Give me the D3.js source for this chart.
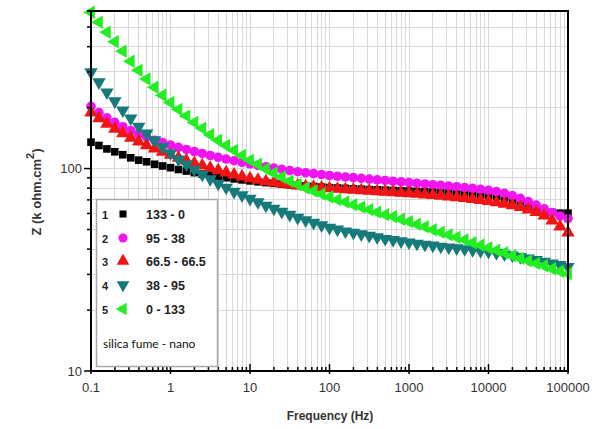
<!DOCTYPE html>
<html>
<head>
<meta charset="utf-8">
<script src="https://cdn.jsdelivr.net/npm/d3@7"></script>
<style>
  html, body { margin: 0; padding: 0; background: #fff; }
  svg { display: block; }
</style>
</head>
<body>
<svg id="chart" width="601" height="429"></svg>
<script>
// Impedance modulus vs frequency, five silica fume / nano-silica blends
const frequency = [
  0.1, 0.1259, 0.1585, 0.1995, 0.2512, 0.3162, 0.3981, 0.5012, 0.631, 0.7943,
  1, 1.259, 1.585, 1.995, 2.512, 3.162, 3.981, 5.012, 6.31, 7.943,
  10, 12.59, 15.85, 19.95, 25.12, 31.62, 39.81, 50.12, 63.1, 79.43,
  100, 125.9, 158.5, 199.5, 251.2, 316.2, 398.1, 501.2, 631, 794.3,
  1000, 1259, 1585, 1995, 2512, 3162, 3981, 5012, 6310, 7943,
  10000, 12590, 15850, 19950, 25120, 31620, 39810, 50120, 63100, 79430, 100000
];

const z133_0 = [
  135, 130, 125, 121, 117, 113, 110, 108, 105, 103,
  101, 98.9, 97.2, 95.5, 93.9, 92.5, 91.3, 90.1, 88.9, 87.9,
  86.9, 86.0, 85.2, 84.5, 83.8, 83.1, 82.6, 82.0, 81.5, 81.0,
  80.5, 80.2, 79.8, 79.4, 79.1, 78.7, 78.5, 78.2, 77.9, 77.6,
  77.4, 77.1, 76.8, 76.6, 76.3, 76.1, 75.7, 75.4, 75.0, 74.4,
  73.8, 72.9, 71.6, 69.8, 67.9, 65.7, 63.7, 62.0, 60.7, 60.2, 60.2
];

const z95_38 = [
  203, 189, 178, 169, 161, 154, 148, 143, 138, 134.5,
  130.7, 127.3, 124.2, 121.4, 118.7, 116.0, 113.6, 111.4, 109.3, 107.3,
  105.5, 103.7, 102.1, 100.6, 99.1, 97.7, 96.5, 95.4, 94.4, 93.4,
  92.4, 91.6, 90.9, 90.2, 89.4, 88.7, 88.0, 87.3, 86.6, 85.9,
  85.2, 84.6, 83.9, 83.2, 82.6, 81.9, 81.3, 80.5, 79.8, 79.0,
  78.1, 76.9, 75.4, 73.5, 71.2, 68.7, 66.0, 63.3, 60.6, 58.2, 56.6
];

const z66_66 = [
  189, 177, 166, 157, 149, 141.9, 135.8, 130.3, 125.3, 120.8,
  116.8, 113.0, 109.5, 106.3, 103.4, 100.6, 98.0, 95.5, 93.3, 91.3,
  89.4, 87.8, 86.4, 85.2, 84.2, 83.2, 82.4, 81.6, 81.0, 80.4,
  79.8, 79.3, 78.9, 78.5, 78.0, 77.6, 77.1, 76.7, 76.3, 75.8,
  75.4, 74.9, 74.4, 73.9, 73.3, 72.7, 72.0, 71.4, 70.6, 69.8,
  69.0, 68.0, 66.9, 65.7, 64.4, 62.7, 60.9, 58.5, 55.3, 51.6, 48.2
];

const z38_95 = [
  299, 267, 238, 215, 194, 177, 161, 149, 138, 128,
  119, 111, 105, 98.9, 93.4, 88.7, 84.3, 80.5, 76.9, 73.9,
  71.0, 68.3, 65.6, 63.4, 61.2, 59.2, 57.2, 55.6, 54.0, 52.5,
  51.0, 50.0, 49.0, 48.2, 47.4, 46.6, 45.8, 45.0, 44.4, 43.8,
  43.2, 42.6, 42.1, 41.7, 41.2, 40.8, 40.4, 40.0, 39.6, 39.2,
  38.8, 38.3, 37.7, 37.2, 36.6, 36.0, 35.4, 34.7, 34.0, 33.4, 32.7
];

const z0_133 = [
  592, 528, 471, 423, 380, 339, 306, 277, 252, 230,
  212, 196, 182, 169, 158, 147, 138, 130, 123, 116,
  110, 105, 99.4, 95.0, 90.8, 86.7, 83.3, 80.1, 77.4, 74.8,
  72.3, 70.2, 68.3, 66.3, 64.5, 62.7, 60.9, 59.2, 57.9, 56.2,
  54.7, 53.1, 51.6, 49.9, 48.5, 47.1, 45.8, 44.5, 43.0, 41.8,
  40.6, 39.5, 38.4, 37.1, 36.0, 35.0, 34.0, 33.1, 32.0, 31.1, 30.2
];

const seriesNames = ["133 - 0", "95 - 38", "66.5 - 66.5", "38 - 95", "0 - 133"];
const seriesValues = [z133_0, z95_38, z66_66, z38_95, z0_133];
const seriesColors = ["#000000", "#f014f0", "#f01414", "#177a7a", "#22ee22"];
const seriesShapes = ["square", "circle", "up", "down", "left"];

const xTickLabels = ["0.1", "1", "10", "100", "1000", "10000", "100000"];
const yTickLabels = ["10", "100"];
const xTickValues = xTickLabels.map(Number);
const yTickValues = yTickLabels.map(Number);

const svg = d3.select("#chart");
const plotLeft = 91, plotRight = 568, plotTop = 11, plotBottom = 371;

const x = d3.scaleLog().domain([0.1, 100000]).range([plotLeft, plotRight]);
const y = d3.scaleLog().domain([10, 600]).range([plotBottom, plotTop]);

// minor values for grid and ticks
const xMinor = [];
for (let e = -1; e < 5; e++) for (let m = 1; m <= 9; m++) xMinor.push(+(m * Math.pow(10, e)).toPrecision(3));
xMinor.push(100000);
const yMinor = [];
for (let e = 1; e < 3; e++) for (let m = 1; m <= 9; m++) { const v = m * Math.pow(10, e); if (v <= 600) yMinor.push(v); }

// grid
const grid = svg.append("g").attr("stroke", "#d8d8d8").attr("stroke-width", 1).attr("shape-rendering", "crispEdges");
grid.append("g").selectAll("line").data(xMinor).join("line")
  .attr("x1", d => x(d)).attr("x2", d => x(d)).attr("y1", plotTop).attr("y2", plotBottom);
grid.append("g").selectAll("line").data(yMinor).join("line")
  .attr("y1", d => y(d)).attr("y2", d => y(d)).attr("x1", plotLeft).attr("x2", plotRight);

// markers
function shapePath(shape, size) {
  const s = shape === "square" ? d3.symbolSquare : shape === "circle" ? d3.symbolCircle : d3.symbolTriangle;
  return d3.symbol().type(s).size(size)();
}
function rotation(shape) {
  return shape === "down" ? 180 : shape === "left" ? -90 : 0;
}
const sizes = { square: 58, circle: 72, up: 78, down: 78, left: 78 };

const plot = svg.append("g");
seriesValues.forEach((vals, k) => {
  const shape = seriesShapes[k];
  plot.append("g").selectAll("path").data(vals).join("path")
    .attr("d", shapePath(shape, sizes[shape]))
    .attr("fill", seriesColors[k])
    .attr("transform", (d, i) => `translate(${x(frequency[i])},${y(d)}) rotate(${rotation(shape)})`);
});

// frame
svg.append("rect").attr("x", plotLeft).attr("y", plotTop).attr("width", plotRight - plotLeft).attr("height", plotBottom - plotTop)
  .attr("fill", "none").attr("stroke", "#000").attr("stroke-width", 2);

// y ticks (outside, left)
const yAxis = svg.append("g").attr("stroke", "#000").attr("stroke-width", 1.5);
yAxis.selectAll("line").data(yMinor.concat([600])).join("line")
  .attr("x1", plotLeft).attr("x2", d => yTickValues.includes(d) ? plotLeft - 7 : plotLeft - 4)
  .attr("y1", d => y(d)).attr("y2", d => y(d));
svg.append("g").selectAll("text").data(yTickValues).join("text")
  .attr("x", plotLeft - 9).attr("y", d => y(d)).attr("dy", "0.35em")
  .attr("text-anchor", "end").attr("font-family", "Liberation Sans, Arial, sans-serif")
  .attr("font-size", 13).attr("fill", "#333").text((d, i) => yTickLabels[i]);

// x ticks (inside, up)
const xAxis = svg.append("g").attr("stroke", "#000").attr("stroke-width", 1.5);
xAxis.selectAll("line").data(xMinor).join("line")
  .attr("x1", d => x(d)).attr("x2", d => x(d))
  .attr("y1", d => xTickValues.includes(d) ? plotBottom + 3 : plotBottom)
  .attr("y2", d => xTickValues.includes(d) ? plotBottom - 7 : plotBottom - 4);
svg.append("g").selectAll("text").data(xTickValues).join("text")
  .attr("x", d => x(d)).attr("y", plotBottom + 21)
  .attr("text-anchor", "middle").attr("font-family", "Liberation Sans, Arial, sans-serif")
  .attr("font-size", 13).attr("fill", "#333").text((d, i) => xTickLabels[i]);

// axis titles
svg.append("text").attr("x", 330).attr("y", 420).attr("text-anchor", "middle")
  .attr("font-family", "Liberation Sans, Arial, sans-serif").attr("font-weight", "bold")
  .attr("font-size", 12).attr("fill", "#333").text("Frequency (Hz)");

const yt = svg.append("text").attr("transform", "translate(41,192) rotate(-90)")
  .attr("text-anchor", "middle").attr("font-family", "Liberation Sans, Arial, sans-serif")
  .attr("font-weight", "bold").attr("font-size", 13).attr("fill", "#333");
yt.append("tspan").text("Z (k ohm.cm");
yt.append("tspan").attr("dy", -7).attr("font-size", 11).text("2");
yt.append("tspan").attr("dy", 7).text(")");

// legend
const lg = svg.append("g");
lg.append("rect").attr("x", 96.5).attr("y", 199.5).attr("width", 121).attr("height", 167)
  .attr("fill", "#fff").attr("stroke", "#a8a8a8").attr("stroke-width", 1.5);
const rowY = [215, 239, 262, 286, 310];
const legendSizes = { square: 50, circle: 64, up: 70, down: 70, left: 70 };
seriesNames.forEach((name, k) => {
  const shape = seriesShapes[k];
  lg.append("text").attr("x", 105).attr("y", rowY[k]).attr("dy", "0.35em").attr("text-anchor", "middle")
    .attr("font-family", "Liberation Sans, Arial, sans-serif").attr("font-weight", "bold")
    .attr("font-size", 11).attr("fill", "#222").text(k + 1);
  lg.append("path").attr("d", shapePath(shape, legendSizes[shape]))
    .attr("fill", seriesColors[k])
    .attr("transform", `translate(123,${rowY[k] - 1}) rotate(${rotation(shape)})`);
  lg.append("text").attr("x", 146).attr("y", rowY[k]).attr("dy", "0.35em")
    .attr("font-family", "Liberation Sans, Arial, sans-serif").attr("font-weight", "bold")
    .attr("font-size", 12.5).attr("fill", "#222").text(name);
});
lg.append("text").attr("x", 103).attr("y", 344).attr("dy", "0.35em")
  .attr("font-family", "Lato, Open Sans, sans-serif")
  .attr("font-size", 12).attr("fill", "#111").text("silica fume - nano");
</script>
</body>
</html>
